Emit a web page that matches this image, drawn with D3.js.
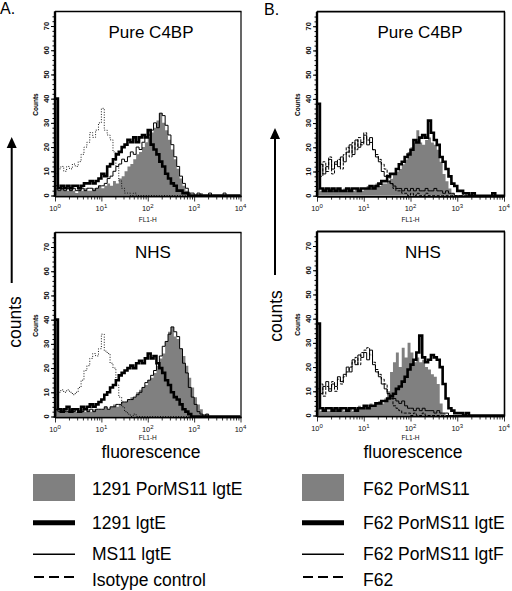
<!DOCTYPE html>
<html><head><meta charset="utf-8">
<script src="https://cdn.jsdelivr.net/npm/d3@7"></script>
<style>
body{margin:0;background:#fff}
svg{display:block;font-family:Arial,"Liberation Sans",Helvetica,sans-serif}
</style>
</head><body>
<svg id="c" width="512" height="591"></svg>
<script>
// ---------- data ----------
const binsPerDecade = 16;            // 64 log-spaced channels, 10^0 .. 10^4
const decades = [0, 1, 2, 3, 4];
const yTickValues = [0, 10, 20, 30, 40, 50, 60, 70];
const panelTitles = ["Pure C4BP", "NHS", "Pure C4BP", "NHS"];
const panelLetters = ["A.", "B."];
const legendA = ["1291 PorMS11 lgtE", "1291 lgtE", "MS11 lgtE", "Isotype control"];
const legendB = ["F62 PorMS11", "F62 PorMS11 lgtE", "F62 PorMS11 lgtF", "F62"];

// A, Pure C4BP
const A_pure_gray  = [3,2,3,2,2,3,2,1,3,2,3,2,2,3,3,4, 3,4,5,4,6,5,7,8,10,12,13,15,17,18,20,22, 24,26,28,31,34,30,27,23,19,15,11,7,4,2,1,0, 0,0,1,0,0,0,0,0,0,0,0,0,0,0,0,0];
const A_pure_thick = [40,3,4,3,4,3,4,4,3,4,5,5,6,5,6,7, 9,8,12,13,15,17,18,20,21,23,22,24,22,24,25,24, 27,21,19,17,14,12,9,7,5,4,2,2,1,1,0,0, 0,0,0,0,0,0,0,0,0,0,0,0,0,0,0,0];
const A_pure_thin  = [4,2,3,2,3,2,3,2,2,3,2,3,3,2,3,4, 4,5,7,8,10,12,13,15,14,16,18,17,20,19,22,24, 25,27,30,28,34,33,29,25,21,16,12,8,5,3,1,1, 0,1,0,0,0,1,0,0,0,0,1,0,0,0,0,0];
const A_pure_iso   = [9,11,12,10,12,11,13,12,14,17,20,22,26,24,27,30, 36,27,25,23,18,12,6,3,1,1,0,1,0,0,0,0, 0,0,0,0,0,0,0,0,0,0,0,0,0,0,0,0, 0,0,0,0,0,0,0,0,0,0,0,0,0,0,0,0];
// A, NHS
const A_nhs_gray  = [3,2,2,3,2,2,3,2,2,3,2,3,2,3,3,3, 3,4,3,4,5,4,5,6,6,7,8,8,10,11,12,13, 15,16,18,21,24,26,31,35,37,33,32,28,25,21,16,12, 8,5,3,1,1,0,0,0,0,0,0,0,0,0,0,0];
const A_nhs_thick = [40,3,2,3,4,2,3,3,2,4,3,4,5,4,5,6, 7,9,10,12,13,15,17,18,19,20,21,20,22,23,22,24, 26,24,25,22,20,18,15,13,10,8,7,5,3,2,1,0, 0,0,0,0,0,0,0,0,0,0,0,0,0,0,0,0];
const A_nhs_thin  = [3,2,3,2,2,3,2,3,2,2,3,2,3,2,3,3, 3,4,3,4,4,5,5,6,6,7,7,8,9,10,12,14, 15,17,19,22,25,29,31,34,37,35,33,28,22,18,12,8, 5,2,1,0,1,0,0,0,0,0,0,0,0,0,0,0];
const A_nhs_iso   = [9,10,11,10,11,10,9,10,12,15,19,21,24,26,25,28, 34,27,26,22,20,13,8,4,2,1,0,1,0,0,0,0, 0,0,0,0,0,0,0,0,0,0,0,0,0,0,0,0, 0,0,0,0,0,0,0,0,0,0,0,0,0,0,0,0];
// B, Pure C4BP
const B_pure_gray  = [3,2,3,2,3,2,2,3,2,3,2,3,2,3,3,2, 3,4,3,4,5,4,5,5,6,7,9,10,11,13,15,18, 20,22,27,22,21,23,24,22,21,19,14,9,6,3,1,0, 0,0,0,0,0,0,0,0,0,0,0,0,0,0,0,0];
const B_pure_thick = [38,3,2,3,2,3,2,3,2,2,3,2,3,3,2,3, 3,3,4,3,4,5,6,6,8,9,9,11,13,14,16,17, 19,23,22,24,25,24,31,26,23,21,16,14,11,8,5,4, 2,2,1,1,0,1,0,0,0,0,0,0,1,0,0,0];
const B_pure_thin  = [10,13,9,12,15,11,14,12,16,14,18,21,17,23,20,22, 25,21,24,19,16,14,10,8,6,5,4,3,3,2,3,2, 3,2,3,2,2,3,2,2,3,2,2,1,2,1,1,0, 0,0,1,0,0,0,0,0,0,0,0,0,0,0,0,0];
const B_pure_dash  = [12,8,14,10,16,9,13,15,11,17,20,16,22,19,24,21, 26,23,22,19,17,15,13,11,8,5,3,2,2,1,1,0, 1,0,1,0,0,1,0,0,0,0,0,0,0,0,0,0, 0,0,0,0,0,0,0,0,0,0,0,0,0,0,0,0];
// B, NHS
const B_nhs_gray  = [3,2,3,2,2,3,2,3,3,2,3,3,2,3,4,3, 4,3,5,4,5,6,5,7,10,18,22,26,20,28,24,30, 26,22,24,22,23,20,19,17,16,13,5,1,0,0,0,0, 0,0,0,0,0,0,0,0,0,0,0,0,0,0,0,0];
const B_nhs_thick = [38,3,2,3,3,2,3,2,3,3,2,3,3,2,3,3, 4,3,4,4,5,5,6,6,7,8,9,11,12,14,16,19, 21,23,26,33,24,22,23,25,24,23,20,13,7,3,2,1, 1,1,0,1,0,0,0,0,0,0,0,0,0,0,0,0];
const B_nhs_thin  = [11,9,12,14,10,13,12,16,14,17,20,18,23,21,25,24, 26,23,27,21,18,16,13,11,9,8,7,6,5,6,4,3, 3,2,3,2,3,2,2,2,1,2,1,1,1,0,0,0, 0,0,0,0,0,0,0,0,0,0,0,0,0,0,0,0];
const B_nhs_dash  = [10,13,8,12,11,14,10,15,13,16,18,20,22,24,21,26, 27,28,25,22,19,17,15,13,9,7,4,3,2,1,1,1, 0,1,0,0,1,0,0,0,0,0,0,0,0,0,0,0, 0,0,0,0,0,0,0,0,0,0,0,0,0,0,0,0];

// ---------- layout ----------
const svg = d3.select("#c");
const panels = [
  {x0:55,  x1:240.5, zero:195.5, title:panelTitles[0], tx:151, ty:37.5, gray:A_pure_gray, thick:A_pure_thick, thin:A_pure_thin, dash:A_pure_iso, dotted:true,  fl:222, rw:1.2},
  {x0:55,  x1:240.5, zero:416.5, title:panelTitles[1], tx:153, ty:257.5, gray:A_nhs_gray, thick:A_nhs_thick, thin:A_nhs_thin, dash:A_nhs_iso, dotted:true, fl:440, rw:1.2},
  {x0:317, x1:504,   zero:195.7, title:panelTitles[2], tx:420, ty:37.5, gray:B_pure_gray, thick:B_pure_thick, thin:B_pure_thin, dash:B_pure_dash, dotted:false, fl:222, rw:1.6},
  {x0:317, x1:504,   zero:415.5, title:panelTitles[3], tx:423, ty:257.5, gray:B_nhs_gray, thick:B_nhs_thick, thin:B_nhs_thin, dash:B_nhs_dash, dotted:false, fl:440, rw:1.6}
];
const nb = A_pure_gray.length;
const edges = d3.range(nb + 1).map(i => Math.pow(10, i / binsPerDecade));
function stepPts(vals){
  const pts = [{x:1, v:0}];
  vals.forEach((v,i) => { pts.push({x:edges[i], v}); pts.push({x:edges[i+1], v}); });
  return pts;
}

panels.forEach((p, k) => {
  const top = p.zero - 184;
  const x = d3.scaleLog().domain([1, 1e4]).range([p.x0, p.x1]);
  const y = d3.scaleLinear().domain([0, 76]).range([p.zero, top]);
  const g = svg.append("g");
  const cid = "clip" + k;
  svg.append("clipPath").attr("id", cid).append("rect")
    .attr("x", p.x0).attr("y", top).attr("width", p.x1 - p.x0 + 1).attr("height", p.zero - top + 0.5);
  const plot = g.append("g").attr("clip-path", `url(#${cid})`);

  const area = d3.area().x(d => x(d.x)).y0(y(0)).y1(d => y(d.v));
  const line = d3.line().x(d => x(d.x)).y(d => y(d.v));

  plot.append("path").attr("d", area(stepPts(p.gray))).attr("fill", "#808080");
  plot.append("path").attr("d", line(stepPts(p.dash))).attr("fill", "none")
    .attr("stroke", "#000").attr("stroke-width", p.dotted ? 0.9 : 1)
    .attr("stroke-dasharray", p.dotted ? "1,1.6" : "3,1.5");
  plot.append("path").attr("d", line(stepPts(p.thin))).attr("fill", "none")
    .attr("stroke", "#000").attr("stroke-width", 1);
  plot.append("path").attr("d", line(stepPts(p.thick))).attr("fill", "none")
    .attr("stroke", "#000").attr("stroke-width", 2.6).attr("stroke-linejoin", "miter");

  // frame
  g.append("line").attr("x1", p.x0).attr("x2", p.x1 + 1).attr("y1", top).attr("y2", top).attr("stroke", "#000").attr("stroke-width", p.rw + 0.2);
  g.append("line").attr("x1", p.x1 + 0.5).attr("x2", p.x1 + 0.5).attr("y1", top).attr("y2", p.zero + 1).attr("stroke", "#000").attr("stroke-width", p.rw);

  // x axis
  const xa = g.append("g").attr("transform", `translate(0,${p.zero + 1})`);
  const minors = [];
  decades.slice(0, 4).forEach(d => { for (let m = 2; m < 10; m++) minors.push(m * Math.pow(10, d)); });
  xa.call(d3.axisBottom(x).tickValues(minors).tickSize(3).tickFormat(""));
  xa.call(g2 => g2.append("g").call(d3.axisBottom(x).tickValues(decades.map(d => Math.pow(10, d))).tickSize(5).tickFormat("")));
  xa.selectAll(".domain").attr("stroke-width", 1.5).attr("d", `M${p.x0},0H${p.x1 + 1}`);
  xa.selectAll(".tick line").attr("stroke-width", 0.8);
  decades.forEach(d => {
    const t = g.append("text").attr("x", x(Math.pow(10, d))).attr("y", p.zero + 15.5)
      .attr("text-anchor", "middle").attr("font-size", 7.5).attr("fill", "#111");
    t.append("tspan").text("10");
    t.append("tspan").attr("dy", -3.5).attr("font-size", 6).text(d);
  });
  g.append("text").attr("x", x(100)).attr("y", p.fl).attr("text-anchor", "middle")
    .attr("font-size", 6.5).attr("fill", "#111").text("FL1-H");

  // y axis
  const ya = g.append("g").attr("transform", `translate(${p.x0},0)`);
  ya.call(d3.axisLeft(y).tickValues(d3.range(0, 76, 2)).tickSize(2.5).tickFormat(""));
  ya.call(g2 => g2.append("g").call(d3.axisLeft(y).tickValues(yTickValues).tickSize(4).tickFormat("")));
  ya.selectAll(".domain").attr("stroke-width", 2.2).attr("d", `M0,${top}V${p.zero + 1}`);
  ya.selectAll(".tick line").attr("stroke-width", 1);
  yTickValues.forEach(v => {
    g.append("text").attr("transform", `translate(${p.x0 - 6},${y(v)}) rotate(-90)`)
      .attr("text-anchor", "middle").attr("font-size", 7.5).attr("font-weight", "bold").attr("fill", "#111").text(v);
  });
  g.append("text").attr("transform", `translate(${p.x0 - 17},${p.zero - 91}) rotate(-90)`)
    .attr("text-anchor", "middle").attr("font-size", 6.5).attr("font-weight", "bold").text("Counts");

  // title
  g.append("text").attr("x", p.tx).attr("y", p.ty).attr("text-anchor", "middle")
    .attr("font-size", 17).text(p.title);
});

// panel letters
svg.append("text").attr("x", 0).attr("y", 14).attr("font-size", 16).text(panelLetters[0]);
svg.append("text").attr("x", 264).attr("y", 14.5).attr("font-size", 16).text(panelLetters[1]);

// counts arrows
[{x:11.7, tip:137, bot:283, ty:322, off:9}, {x:275, tip:128, bot:275, ty:316, off:7}].forEach(a => {
  svg.append("line").attr("x1", a.x).attr("x2", a.x).attr("y1", a.tip + 8).attr("y2", a.bot).attr("stroke", "#000").attr("stroke-width", 2);
  svg.append("path").attr("d", `M${a.x},${a.tip}L${a.x - 5},${a.tip + 11}L${a.x + 5},${a.tip + 11}Z`).attr("fill", "#000");
  svg.append("text").attr("transform", `translate(${a.x + a.off},${a.ty}) rotate(-90)`)
    .attr("text-anchor", "middle").attr("font-size", 17.5).text("counts");
});

// fluorescence labels
svg.append("text").attr("x", 151).attr("y", 458).attr("text-anchor", "middle").attr("font-size", 17.5).text("fluorescence");
svg.append("text").attr("x", 413).attr("y", 458).attr("text-anchor", "middle").attr("font-size", 17.5).text("fluorescence");

// legends
const rowBase = [495, 529, 560, 586];
[{lx:33, tx:92, labels:legendA}, {lx:302, tx:363, labels:legendB}].forEach(L => {
  const lg = svg.append("g");
  lg.append("rect").attr("x", L.lx).attr("y", 474).attr("width", 42).attr("height", 27).attr("fill", "#808080");
  lg.append("line").attr("x1", L.lx).attr("x2", L.lx + 42).attr("y1", 522.7).attr("y2", 522.7).attr("stroke", "#000").attr("stroke-width", 5);
  lg.append("line").attr("x1", L.lx).attr("x2", L.lx + 42).attr("y1", 554.3).attr("y2", 554.3).attr("stroke", "#000").attr("stroke-width", 1.4);
  lg.append("line").attr("x1", L.lx + 1).attr("x2", L.lx + 42).attr("y1", 577).attr("y2", 577).attr("stroke", "#000").attr("stroke-width", 2).attr("stroke-dasharray", "10,5");
  L.labels.forEach((t, i) => {
    lg.append("text").attr("x", L.tx).attr("y", rowBase[i]).attr("font-size", 17.5).text(t);
  });
});
</script>
</body></html>
